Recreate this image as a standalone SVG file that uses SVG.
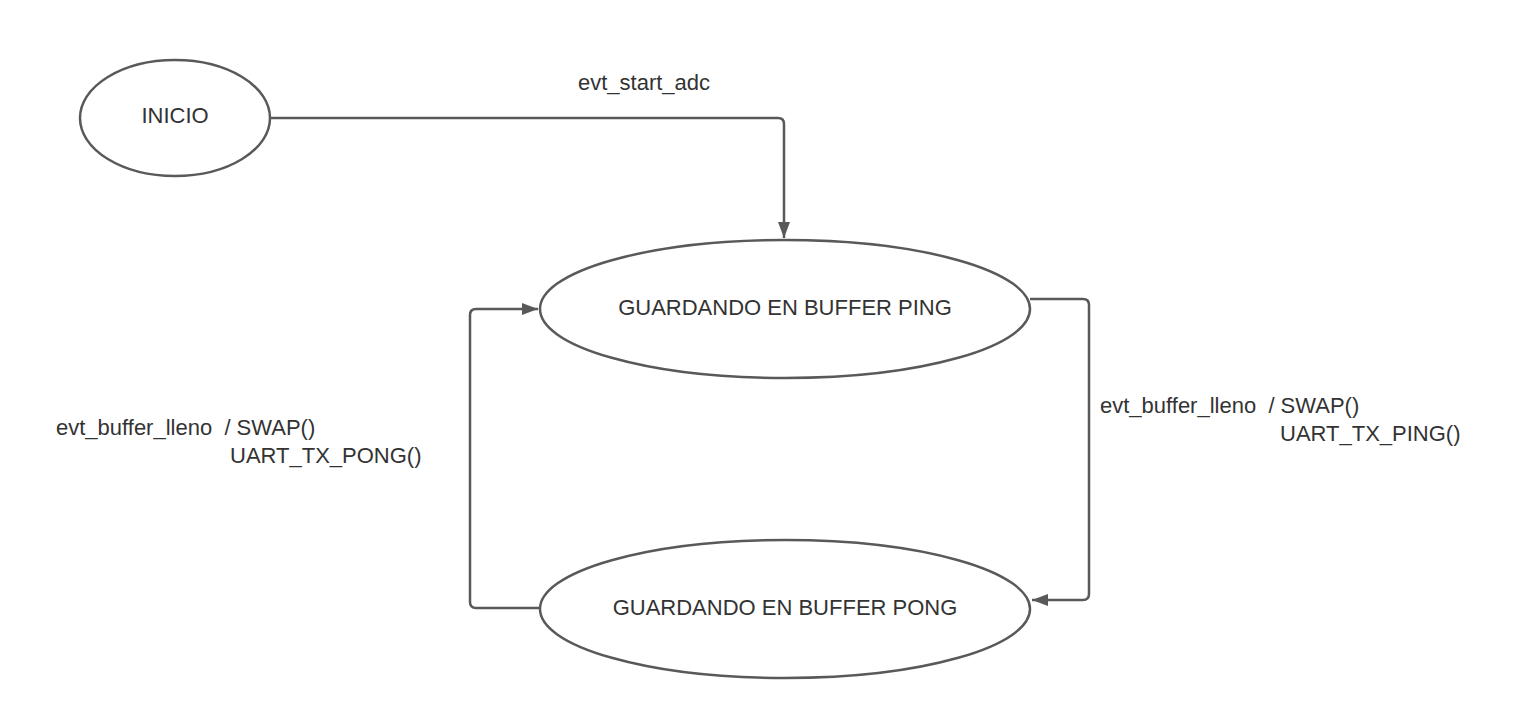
<svg xmlns="http://www.w3.org/2000/svg" width="1520" height="718" viewBox="0 0 1520 718">
<style>
.node{fill:#ffffff;stroke:#595959;stroke-width:2.5}
.edge{fill:none;stroke:#595959;stroke-width:2.5;stroke-linejoin:round}
text{font-family:"Liberation Sans",Arial,sans-serif;font-size:22px;fill:#333333}
.c{text-anchor:middle}
</style>
<defs>
<marker id="arrow" viewBox="0 0 16 12" refX="16" refY="6" markerWidth="16" markerHeight="12" orient="auto" markerUnits="userSpaceOnUse">
<path d="M0,0 L16,6 L0,12 z" fill="#595959"/>
</marker>
</defs>
<rect width="1520" height="718" fill="#ffffff"/>
<g id="connectors">
<path class="edge" d="M270,118 H778 Q784,118 784,124 V238" marker-end="url(#arrow)"/>
<path class="edge" d="M1030,299 H1083 Q1089,299 1089,305 V594 Q1089,600 1083,600 H1032" marker-end="url(#arrow)"/>
<path class="edge" d="M540,608 H476 Q470,608 470,602 V315 Q470,309 476,309 H538" marker-end="url(#arrow)"/>
</g>
<g id="labels">
<text x="578" y="90">evt_start_adc</text>
<text x="56" y="435" xml:space="preserve">evt_buffer_lleno  / SWAP()</text>
<text x="230" y="463">UART_TX_PONG()</text>
<text x="1100" y="413" xml:space="preserve">evt_buffer_lleno  / SWAP()</text>
<text x="1280" y="441">UART_TX_PING()</text>
</g>
<g id="inicio">
<ellipse class="node" cx="175" cy="118" rx="95" ry="58"/>
<text class="c" x="175" y="123">INICIO</text>
</g>
<g id="ping">
<ellipse class="node" cx="785" cy="309" rx="245" ry="69"/>
<text class="c" x="785" y="315">GUARDANDO EN BUFFER PING</text>
</g>
<g id="pong">
<ellipse class="node" cx="785" cy="609" rx="245" ry="69"/>
<text class="c" x="785" y="615">GUARDANDO EN BUFFER PONG</text>
</g>
</svg>
